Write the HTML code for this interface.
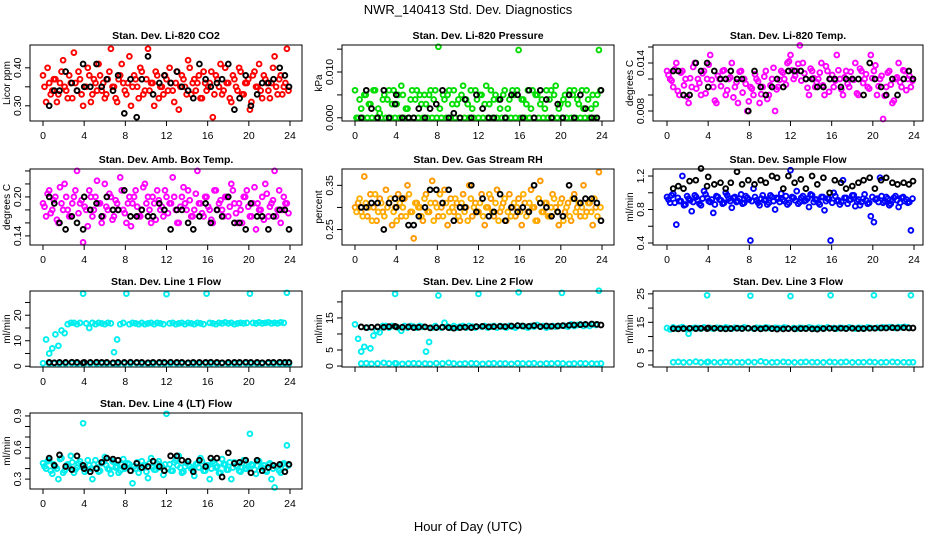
<!DOCTYPE html>
<html><head><meta charset="utf-8">
<style>
html,body{margin:0;padding:0;background:#fff;}
svg{display:block;font-family:"Liberation Sans",Arial,sans-serif;}
</style></head>
<body>
<svg id="chart" width="936" height="540" viewBox="0 0 936 540">
<rect width="936" height="540" fill="#fff"/>
<text x="468" y="14" text-anchor="middle" font-size="13" fill="#000">NWR_140413  Std. Dev. Diagnostics</text>
<text x="468" y="531" text-anchor="middle" font-size="13" fill="#000">Hour of Day (UTC)</text>
</svg>
<script>
// ---------- data ----------
const colorHours = [0,0.3,0.6,0.9,1.2,1.5,1.8,2.1,2.4,2.7,3,3.3,3.6,3.9,4.2,4.5,4.8,5.1,5.4,5.7,6,6.3,6.6,6.9,7.2,7.5,7.8,8.1,8.4,8.7,9,9.3,9.6,9.9,10.2,10.5,10.8,11.1,11.4,11.7,12,12.3,12.6,12.9,13.2,13.5,13.8,14.1,14.4,14.7,15,15.3,15.6,15.9,16.2,16.5,16.8,17.1,17.4,17.7,18,18.3,18.6,18.9,19.2,19.5,19.8,20.1,20.4,20.7,21,21.3,21.6,21.9,22.2,22.5,22.8,23.1,23.4,23.7];
const colorHours2 = [0.15,0.45,0.75,1.05,1.35,1.65,1.95,2.25,2.55,2.85,3.15,3.45,3.75,4.05,4.35,4.65,4.95,5.25,5.55,5.85,6.15,6.45,6.75,7.05,7.35,7.65,7.95,8.25,8.55,8.85,9.15,9.45,9.75,10.05,10.35,10.65,10.95,11.25,11.55,11.85,12.15,12.45,12.75,13.05,13.35,13.65,13.95,14.25,14.55,14.85,15.15,15.45,15.75,16.05,16.35,16.65,16.95,17.25,17.55,17.85,18.15,18.45,18.75,19.05,19.35,19.65,19.95,20.25,20.55,20.85,21.15,21.45,21.75,22.05,22.35,22.65,22.95,23.25,23.55,23.85];
const blackHours = [0.6,1.1,1.6,2.2,2.8,3.3,3.9,4.0,4.6,5.2,5.7,6.2,6.8,7.3,7.9,8.5,9.1,9.6,10.2,10.7,11.3,11.8,12.4,13.0,13.5,14.1,14.6,15.2,15.8,16.3,16.9,17.4,18.0,18.6,19.1,19.7,20.2,20.8,21.3,21.9,22.4,23.0,23.5,23.9];
const xTicks = [0,4,8,12,16,20,24];

const co2Red = [0.38,0.31,0.36,0.34,0.37,0.33,0.39,0.35,0.32,0.36,0.44,0.34,0.37,0.30,0.35,0.38,0.33,0.36,0.41,0.34,0.32,0.37,0.45,0.35,0.31,0.38,0.36,0.33,0.43,0.35,0.37,0.32,0.39,0.34,0.45,0.36,0.30,0.38,0.35,0.33,0.37,0.40,0.34,0.36,0.29,0.38,0.35,0.42,0.33,0.37,0.36,0.32,0.39,0.34,0.36,0.27,0.38,0.35,0.33,0.40,0.36,0.31,0.37,0.34,0.39,0.33,0.36,0.29,0.38,0.35,0.41,0.32,0.37,0.34,0.36,0.43,0.33,0.38,0.35,0.45];
const co2Red2 = [0.35,0.40,0.33,0.37,0.31,0.36,0.42,0.34,0.38,0.32,0.36,0.39,0.33,0.35,0.40,0.31,0.37,0.34,0.38,0.36,0.33,0.39,0.35,0.32,0.37,0.41,0.34,0.36,0.30,0.38,0.35,0.40,0.33,0.37,0.34,0.36,0.39,0.32,0.35,0.38,0.34,0.36,0.31,0.39,0.35,0.37,0.33,0.40,0.36,0.34,0.38,0.32,0.36,0.35,0.39,0.33,0.37,0.41,0.34,0.36,0.32,0.38,0.35,0.40,0.33,0.36,0.37,0.31,0.39,0.35,0.34,0.38,0.36,0.32,0.40,0.35,0.37,0.33,0.36,0.34];
const co2Black = [0.30,0.34,0.34,0.39,0.36,0.34,0.41,0.35,0.35,0.41,0.35,0.37,0.34,0.38,0.28,0.37,0.27,0.37,0.43,0.33,0.36,0.38,0.36,0.39,0.35,0.34,0.32,0.41,0.37,0.35,0.36,0.37,0.41,0.29,0.32,0.38,0.30,0.33,0.36,0.36,0.37,0.40,0.38,0.35];

const presGreen = [0.006,0,0.002,0.005,0,0.003,0.006,0,0.001,0.004,0,0.006,0.003,0,0.005,0.007,0,0.002,0.004,0,0.006,0.005,0,0.003,0.005,0,0.006,0.0155,0,0.004,0.005,0,0.006,0.003,0,0.007,0.004,0,0.002,0.006,0,0.005,0.003,0,0.006,0.004,0,0.002,0.005,0,0.004,0.006,0,0.0148,0.004,0,0.006,0.002,0,0.005,0.003,0,0.006,0.004,0,0.007,0.002,0,0.005,0.003,0,0.006,0.004,0,0.002,0.006,0,0.005,0.003,0.0148];
const presGreen2 = [0,0.004,0,0.005,0.003,0,0.006,0.002,0,0.005,0.004,0,0.006,0.003,0,0.005,0.002,0,0.006,0.004,0,0.003,0.005,0,0.006,0.004,0,0.002,0.005,0,0.006,0.003,0,0.004,0.005,0,0.003,0.006,0,0.004,0.005,0,0.007,0.003,0,0.005,0.004,0,0.006,0.002,0,0.005,0.006,0,0.004,0.003,0,0.006,0.005,0,0.004,0.002,0,0.006,0.005,0,0.003,0.004,0,0.006,0.005,0,0.003,0.006,0,0.004,0.002,0,0.005,0.006];
const presBlack = [0,0.006,0.002,0,0.006,0,0.003,0.005,0,0,0,0.002,0,0.002,0.003,0.006,0,0.001,0,0.004,0,0.005,0.002,0,0,0.004,0,0.005,0.005,0,0.006,0,0.006,0.004,0,0.003,0,0.005,0,0.005,0.002,0,0,0.006];

const tempMagenta = [0.013,0.012,0.011,0.014,0.010,0.013,0.012,0.009,0.011,0.014,0.012,0.010,0.013,0.012,0.015,0.011,0.009,0.012,0.013,0.010,0.012,0.014,0.011,0.009,0.013,0.012,0.008,0.011,0.010,0.012,0.009,0.011,0.013,0.010,0.012,0.008,0.011,0.013,0.012,0.014,0.015,0.012,0.013,0.0162,0.014,0.012,0.010,0.013,0.011,0.012,0.014,0.010,0.013,0.012,0.011,0.015,0.012,0.010,0.013,0.011,0.012,0.014,0.010,0.013,0.012,0.011,0.015,0.013,0.010,0.012,0.0070,0.011,0.013,0.009,0.012,0.014,0.011,0.013,0.012,0.011];
const tempMagenta2 = [0.0125,0.0118,0.0132,0.0105,0.0128,0.0112,0.0098,0.0121,0.0135,0.0108,0.0115,0.0127,0.0102,0.0138,0.0119,0.0093,0.0124,0.0111,0.0131,0.0106,0.0122,0.0097,0.0116,0.0129,0.0103,0.0114,0.0092,0.0108,0.0126,0.0117,0.0101,0.0123,0.0095,0.0112,0.0134,0.0107,0.0119,0.0128,0.0113,0.0142,0.0131,0.0124,0.0139,0.0118,0.0127,0.0109,0.0133,0.0121,0.0116,0.0128,0.0112,0.0136,0.0104,0.0125,0.0118,0.0131,0.0107,0.0122,0.0114,0.0129,0.0119,0.0102,0.0133,0.0115,0.0126,0.0108,0.0121,0.0137,0.0111,0.0124,0.0099,0.0128,0.0113,0.0093,0.0122,0.0116,0.0131,0.0106,0.0124,0.0118];
const tempBlack = [0.013,0.013,0.010,0.010,0.014,0.013,0.014,0.011,0.013,0.012,0.012,0.013,0.012,0.012,0.008,0.013,0.011,0.010,0.011,0.012,0.011,0.013,0.013,0.013,0.012,0.012,0.011,0.011,0.012,0.012,0.011,0.012,0.012,0.012,0.010,0.014,0.012,0.011,0.010,0.012,0.010,0.012,0.013,0.012];

const ambMagenta = [0.19,0.17,0.21,0.18,0.20,0.16,0.19,0.22,0.18,0.17,0.20,0.24,0.19,0.13,0.18,0.21,0.17,0.20,0.19,0.16,0.22,0.18,0.20,0.17,0.19,0.23,0.18,0.16,0.20,0.19,0.21,0.17,0.18,0.22,0.20,0.16,0.19,0.21,0.18,0.17,0.20,0.19,0.23,0.18,0.16,0.20,0.19,0.21,0.17,0.18,0.24,0.19,0.17,0.20,0.18,0.16,0.21,0.19,0.18,0.20,0.17,0.22,0.19,0.16,0.18,0.20,0.21,0.17,0.19,0.15,0.18,0.20,0.22,0.17,0.19,0.24,0.18,0.16,0.20,0.19];
const ambMagenta2 = [0.185,0.205,0.175,0.195,0.165,0.215,0.18,0.20,0.17,0.19,0.21,0.175,0.195,0.185,0.155,0.20,0.18,0.225,0.19,0.17,0.185,0.205,0.165,0.195,0.18,0.21,0.175,0.19,0.155,0.20,0.185,0.17,0.215,0.19,0.18,0.20,0.165,0.195,0.185,0.21,0.175,0.19,0.20,0.16,0.185,0.215,0.18,0.195,0.17,0.205,0.19,0.175,0.20,0.185,0.165,0.21,0.18,0.195,0.17,0.20,0.185,0.21,0.175,0.19,0.16,0.20,0.185,0.17,0.215,0.19,0.18,0.165,0.205,0.185,0.195,0.17,0.21,0.18,0.19,0.175];
const ambBlack = [0.20,0.19,0.16,0.15,0.17,0.16,0.15,0.20,0.18,0.19,0.17,0.20,0.18,0.18,0.21,0.17,0.17,0.18,0.17,0.17,0.19,0.18,0.15,0.18,0.18,0.16,0.15,0.17,0.19,0.16,0.18,0.17,0.20,0.16,0.16,0.15,0.19,0.17,0.17,0.15,0.17,0.18,0.18,0.15];

const rhOrange = [0.30,0.31,0.29,0.37,0.28,0.33,0.30,0.27,0.32,0.29,0.34,0.31,0.26,0.30,0.33,0.28,0.32,0.35,0.29,0.23,0.31,0.30,0.27,0.33,0.29,0.36,0.31,0.28,0.30,0.34,0.26,0.32,0.29,0.31,0.27,0.33,0.30,0.35,0.28,0.31,0.29,0.33,0.26,0.30,0.32,0.28,0.34,0.29,0.31,0.27,0.33,0.30,0.28,0.32,0.26,0.31,0.29,0.34,0.30,0.27,0.36,0.29,0.31,0.28,0.33,0.30,0.26,0.32,0.29,0.31,0.27,0.33,0.30,0.28,0.35,0.29,0.31,0.26,0.30,0.38];
const rhOrange2 = [0.29,0.32,0.28,0.31,0.30,0.27,0.33,0.29,0.31,0.28,0.30,0.32,0.29,0.27,0.31,0.30,0.28,0.33,0.29,0.31,0.30,0.28,0.32,0.29,0.31,0.27,0.30,0.33,0.28,0.31,0.29,0.30,0.32,0.28,0.31,0.29,0.27,0.32,0.30,0.29,0.31,0.28,0.30,0.33,0.29,0.31,0.27,0.30,0.32,0.29,0.28,0.31,0.30,0.29,0.33,0.28,0.31,0.30,0.27,0.32,0.29,0.31,0.28,0.30,0.32,0.29,0.31,0.27,0.30,0.28,0.32,0.29,0.31,0.30,0.28,0.31,0.29,0.32,0.28,0.30];
const rhBlack = [0.30,0.30,0.31,0.31,0.25,0.31,0.32,0.30,0.32,0.26,0.26,0.28,0.30,0.34,0.34,0.31,0.34,0.27,0.30,0.30,0.35,0.29,0.32,0.28,0.29,0.33,0.27,0.30,0.29,0.30,0.29,0.35,0.31,0.30,0.28,0.29,0.28,0.35,0.32,0.31,0.32,0.32,0.31,0.27];

const flowBlue = [0.95,0.88,0.99,0.62,0.90,1.20,0.86,0.93,0.78,0.97,0.91,0.85,1.02,0.94,0.89,0.76,0.96,0.92,0.87,1.00,0.93,0.82,0.95,0.90,0.98,0.88,0.94,0.43,1.05,0.91,0.85,0.97,0.92,0.88,0.95,0.80,0.93,0.99,0.90,0.86,1.27,0.94,1.02,0.89,0.96,0.91,0.83,0.97,0.92,0.88,0.95,0.79,0.93,0.43,1.00,0.90,0.86,1.15,0.94,0.91,0.97,0.84,0.92,0.89,0.98,0.87,0.72,0.65,0.93,1.18,0.88,0.95,0.85,0.91,0.96,0.83,0.94,0.90,0.88,0.55];
const flowBlue2 = [0.92,0.97,0.88,0.94,0.90,0.85,0.96,0.91,0.89,0.95,0.87,0.93,0.98,0.90,0.92,0.86,0.95,0.91,0.88,0.97,0.90,0.94,0.89,0.93,0.87,0.96,0.92,0.90,0.95,0.88,0.93,0.91,0.86,0.97,0.90,0.94,0.89,0.92,0.96,0.88,0.95,0.91,0.87,0.94,0.90,0.93,0.98,0.89,0.92,0.86,0.95,0.90,0.93,0.88,0.96,0.91,0.89,0.94,0.87,0.92,0.97,0.90,0.85,0.93,0.91,0.88,0.95,0.92,0.89,0.96,0.90,0.93,0.87,0.94,0.91,0.88,0.95,0.92,0.89,0.93];
const flowBlack = [1.05,1.08,1.05,1.14,1.15,1.29,1.08,1.19,1.10,1.12,1.05,1.12,1.25,1.10,1.15,1.10,1.15,1.12,1.20,1.18,1.05,1.20,1.12,1.16,1.05,1.20,1.10,1.18,1.00,1.15,1.12,1.05,1.08,1.12,1.15,1.18,1.05,1.15,1.18,1.12,1.10,1.12,1.10,1.14];

const line1High = [1.2,10.5,5,7,12.5,8,14,13,16.5,17,17,16.5,17,28.5,16.8,15,17,16.5,17,16.8,16.5,17,16.8,5.5,10.5,16.5,17,28.5,16.5,17,16.8,16.5,17,16.5,16.8,17,16.5,17,16.8,16.5,28.3,16.8,17,16.5,16.8,17,16.5,17,16.8,16.5,17,16.8,16.5,28.5,17,16.8,16.5,17,16.8,17.2,16.8,17,16.5,16.8,17,16.8,17,28.5,17,16.8,17.2,16.8,17,17.2,16.8,17,16.8,17.2,17,28.8];
const line1Low = [1.0,1.1,0.9,1.0,1.2,0.9,1.0,1.1,1.0,0.9,1.1,1.0,1.0,0.9,1.1,1.0,1.2,1.0,0.9,1.0,1.1,1.0,0.9,1.0,1.1,1.0,1.0,0.9,1.1,1.0,1.0,1.1,0.9,1.0,1.0,1.1,1.0,0.9,1.0,1.1,1.0,1.0,0.9,1.0];
const line1Black = [1.5,1.4,1.5,1.5,1.6,1.5,1.4,1.5,1.5,1.6,1.5,1.5,1.4,1.5,1.5,1.6,1.5,1.5,1.4,1.5,1.5,1.5,1.6,1.5,1.5,1.4,1.5,1.5,1.5,1.6,1.5,1.4,1.5,1.5,1.5,1.6,1.5,1.5,1.4,1.5,1.5,1.6,1.5,1.5];

const line2High = [13,8.5,4.5,6,12,5.5,9.5,11,10.5,12.5,12.5,12,12.5,22.5,12,11,12.5,12,12.5,12.3,12,12.5,12.2,4.5,7.5,12,12.5,22,12,13.5,12.3,12,12.5,12,12.3,12.5,12,12.5,12.3,12,22.5,12.3,12.5,12,12.3,12.5,12,12.5,12.3,12,12.5,12.3,12,23,12.5,12.3,12,12.5,12.3,12.8,12.3,12.5,12,12.3,12.5,12.3,12.5,22.8,12.5,12.3,13,12.5,12.8,13,12.5,12.8,12.5,13,12.8,23.5];
const line2Low = [0.8,0.9,0.7,0.8,1.0,0.8,0.9,0.8,0.7,0.8,0.9,0.8,0.8,0.7,0.9,0.8,1.0,0.8,0.7,0.8,0.9,0.8,0.7,0.8,0.9,0.8,0.8,0.7,0.9,0.8,0.8,0.9,0.7,0.8,0.8,0.9,0.8,0.7,0.8,0.9,0.8,0.8,0.7,0.8];
const line2Black = [12.2,12.0,12.1,12.2,12.1,12.3,12.4,12.2,12.1,12.2,12.0,12.1,12.2,11.9,12.0,12.1,12.0,11.8,12.0,12.1,12.0,12.3,12.4,12.2,12.3,12.4,12.3,12.5,12.6,12.5,12.4,12.6,12.3,12.5,12.4,12.5,12.6,12.7,12.8,12.9,13.0,13.1,13.0,12.8];

const line3High = [13,12.5,13.2,12.8,13,13.3,12.8,11,12.9,13.1,13,12.8,13.2,24.5,13,12.8,13.1,13,12.9,13.2,13,12.8,13.1,13,12.9,13.2,13,24.3,12.8,13.1,13,12.9,13.2,13,12.8,13.1,13,12.9,13.2,13,24.2,13,12.8,13.1,13,12.9,13.2,13,12.8,13.1,13,12.9,13.2,24.5,13,12.8,13.1,13,12.9,13.2,13,12.8,13.1,13,12.9,13.2,13,24.5,13.1,13,13.2,13.1,13.3,13.2,13,13.3,13.2,13.4,13.2,24.5];
const line3Low = [1.0,1.1,0.9,1.0,1.2,0.9,1.0,1.1,1.0,0.9,1.1,1.0,1.0,0.9,1.1,1.0,1.3,1.0,0.9,1.0,1.1,1.0,0.9,1.0,1.1,1.0,1.0,0.9,1.1,1.0,1.0,1.1,0.9,1.0,1.0,1.1,1.0,0.9,1.0,1.1,1.0,1.0,0.9,1.0];
const line3Black = [12.8,12.7,12.8,12.9,12.8,12.9,12.8,13.0,12.9,12.8,12.7,12.8,12.9,12.8,12.9,12.8,12.7,12.9,12.8,12.6,12.7,12.8,12.7,12.8,12.8,12.7,12.6,12.8,12.9,12.8,12.9,12.8,12.9,12.8,12.8,12.9,12.9,13.0,13.0,13.1,13.0,13.1,13.0,13.0];

const line4Cyan = [0.45,0.40,0.48,0.35,0.42,0.30,0.50,0.38,0.44,0.52,0.36,0.41,0.47,0.83,0.39,0.43,0.30,0.48,0.37,0.45,0.51,0.40,0.35,0.46,0.42,0.38,0.49,0.41,0.44,0.26,0.40,0.36,0.47,0.43,0.31,0.50,0.39,0.45,0.41,0.34,0.92,0.44,0.38,0.48,0.52,0.36,0.42,0.47,0.40,0.33,0.45,0.50,0.38,0.43,0.30,0.47,0.41,0.36,0.49,0.44,0.39,0.30,0.46,0.42,0.37,0.48,0.40,0.73,0.43,0.35,0.47,0.41,0.38,0.44,0.30,0.22,0.42,0.36,0.45,0.62];
const line4Cyan2 = [0.42,0.47,0.38,0.44,0.40,0.49,0.36,0.43,0.41,0.46,0.39,0.45,0.42,0.37,0.48,0.40,0.44,0.41,0.38,0.46,0.43,0.39,0.47,0.41,0.36,0.44,0.40,0.45,0.38,0.42,0.46,0.40,0.43,0.37,0.45,0.41,0.39,0.47,0.42,0.44,0.40,0.38,0.46,0.43,0.41,0.37,0.45,0.42,0.39,0.44,0.41,0.47,0.38,0.43,0.40,0.45,0.42,0.36,0.44,0.39,0.46,0.41,0.43,0.38,0.45,0.40,0.42,0.44,0.39,0.47,0.41,0.43,0.37,0.45,0.40,0.42,0.38,0.44,0.41,0.43];
const line4Black = [0.5,0.43,0.53,0.42,0.39,0.52,0.43,0.40,0.37,0.40,0.46,0.50,0.49,0.48,0.42,0.38,0.45,0.41,0.42,0.47,0.42,0.38,0.52,0.52,0.48,0.47,0.37,0.48,0.42,0.50,0.50,0.32,0.55,0.45,0.46,0.48,0.36,0.48,0.38,0.41,0.43,0.44,0.37,0.44];

// ---------- panels ----------
const NS = "http://www.w3.org/2000/svg";
const svg = document.getElementById('chart');
const colX = [{l:30,r:302,x0:43,x24:290},{l:342,r:614,x0:355,x24:602},{l:653,r:923,x0:667,x24:914}];
const rowY = [45,169,291,413];
const H = 76;

const panels = [
 {name:'co2',title:'Stan. Dev. Li-820 CO2',ylab:'Licor ppm',c:0,r:0,min:0.26,max:0.46,ticks:[0.30,0.35,0.40],labels:['0.30','','0.40'],xl:true,
  series:[{h:colorHours,v:co2Red,col:'#ff0000'},{h:colorHours2,v:co2Red2,col:'#ff0000'},{h:blackHours,v:co2Black,col:'#000'}]},
 {name:'pressure',title:'Stan. Dev. Li-820 Pressure',ylab:'kPa',c:1,r:0,min:-0.0007,max:0.0159,ticks:[0,0.005,0.010,0.015],labels:['0.000','','0.010',''],xl:true,
  series:[{h:colorHours,v:presGreen,col:'#00dd00'},{h:colorHours2,v:presGreen2,col:'#00dd00'},{h:blackHours,v:presBlack,col:'#000'}]},
 {name:'licor-temp',title:'Stan. Dev. Li-820 Temp.',ylab:'degrees C',c:2,r:0,min:0.00675,max:0.01625,ticks:[0.008,0.010,0.012,0.014,0.016],labels:['0.008','','','0.014',''],xl:true,
  series:[{h:colorHours,v:tempMagenta,col:'#ff00ff'},{h:colorHours2,v:tempMagenta2,col:'#ff00ff'},{h:blackHours,v:tempBlack,col:'#000'}]},
 {name:'amb-box-temp',title:'Stan. Dev. Amb. Box Temp.',ylab:'degrees C',c:0,r:1,min:0.126,max:0.243,ticks:[0.14,0.16,0.18,0.20,0.22,0.24],labels:['0.14','','','0.20','',''],xl:true,
  series:[{h:colorHours,v:ambMagenta,col:'#ff00ff'},{h:colorHours2,v:ambMagenta2,col:'#ff00ff'},{h:blackHours,v:ambBlack,col:'#000'}]},
 {name:'gas-stream-rh',title:'Stan. Dev. Gas Stream RH',ylab:'percent',c:1,r:1,min:0.215,max:0.387,ticks:[0.25,0.30,0.35],labels:['0.25','','0.35'],xl:true,
  series:[{h:colorHours,v:rhOrange,col:'#ff9900'},{h:colorHours2,v:rhOrange2,col:'#ffb000'},{h:blackHours,v:rhBlack,col:'#000'}]},
 {name:'sample-flow',title:'Stan. Dev. Sample Flow',ylab:'ml/min',c:2,r:1,min:0.376,max:1.284,ticks:[0.4,0.6,0.8,1.0,1.2],labels:['0.4','','0.8','','1.2'],xl:true,
  series:[{h:colorHours,v:flowBlue,col:'#0000ff'},{h:colorHours2,v:flowBlue2,col:'#0000ff'},{h:blackHours,v:flowBlack,col:'#000'}]},
 {name:'line1-flow',title:'Stan. Dev. Line 1 Flow',ylab:'ml/min',c:0,r:2,min:-0.3,max:29.5,ticks:[0,5,10,15,20,25],labels:['0','','10','','20',''],xl:true,
  series:[{h:colorHours,v:line1High,col:'#00eeee'},{h:blackHours,v:line1Low,col:'#00eeee'},{h:blackHours,v:line1Black,col:'#000'}]},
 {name:'line2-flow',title:'Stan. Dev. Line 2 Flow',ylab:'ml/min',c:1,r:2,min:-0.3,max:23.4,ticks:[0,5,10,15,20],labels:['0','5','','15',''],xl:false,
  series:[{h:colorHours,v:line2High,col:'#00eeee'},{h:blackHours,v:line2Low,col:'#00eeee'},{h:blackHours,v:line2Black,col:'#000'}]},
 {name:'line3-flow',title:'Stan. Dev. Line 3 Flow',ylab:'ml/min',c:2,r:2,min:-0.7,max:26.0,ticks:[0,5,10,15,20,25],labels:['0','5','','15','','25'],xl:false,
  series:[{h:colorHours,v:line3High,col:'#00eeee'},{h:blackHours,v:line3Low,col:'#00eeee'},{h:blackHours,v:line3Black,col:'#000'}]},
 {name:'line4-flow',title:'Stan. Dev. Line 4 (LT) Flow',ylab:'ml/min',c:0,r:3,min:0.206,max:0.928,ticks:[0.3,0.4,0.5,0.6,0.7,0.8,0.9],labels:['0.3','','','0.6','','','0.9'],xl:true,
  series:[{h:colorHours,v:line4Cyan,col:'#00eeee'},{h:colorHours2,v:line4Cyan2,col:'#00eeee'},{h:blackHours,v:line4Black,col:'#000'}]}
];

function mk(tag, attrs, parent){
  const e = document.createElementNS(NS, tag);
  for (const k in attrs) e.setAttribute(k, attrs[k]);
  parent.appendChild(e);
  return e;
}

panels.forEach(p => {
  const cx = colX[p.c], top = rowY[p.r], bot = top + H;
  const xs = h => cx.x0 + (h/24)*(cx.x24 - cx.x0);
  const ys = v => bot - (v - p.min)/(p.max - p.min)*H;
  const g = mk('g', {}, svg);
  
  

  const t = mk('text', {x:(cx.l+cx.r)/2, y:top-6, 'text-anchor':'middle', 'font-size':'10.5', 'font-weight':'bold'}, g);
  t.textContent = p.title;
  
  

  p.series.forEach((s, si) => {
    const sg = mk('g', {fill:'none', stroke:s.col, 'stroke-width':'1.9'}, g);
    
    
    const n = Math.min(s.h.length, s.v.length);
    for (let i = 0; i < n; i++) {
      const c = mk('circle', {cx:xs(s.h[i]).toFixed(1), cy:ys(s.v[i]).toFixed(1), r:'2.4'}, sg);
      
      
    }
  });

  const box = mk('rect', {x:cx.l, y:top, width:cx.r-cx.l, height:H, fill:'none', stroke:'#000', 'stroke-width':'1'}, g);
  
  

  const ya = mk('g', {}, g);
  
  
  mk('line', {x1:cx.l, x2:cx.l, y1:ys(p.ticks[0]), y2:ys(p.ticks[p.ticks.length-1]), stroke:'#000'}, ya);
  p.ticks.forEach((tv, i) => {
    const y = ys(tv);
    mk('line', {x1:cx.l-5, x2:cx.l, y1:y, y2:y, stroke:'#000'}, ya);
    if (p.labels[i]) {
      const lt = mk('text', {x:0, y:0, 'text-anchor':'middle', 'font-size':'10.5', transform:`translate(${cx.l-9},${y}) rotate(-90)`}, ya);
      lt.textContent = p.labels[i];
      
      
    }
  });
  const yl = mk('text', {x:0, y:0, 'text-anchor':'middle', 'font-size':'10', transform:`translate(${cx.l-20},${top+H/2}) rotate(-90)`}, g);
  yl.textContent = p.ylab;
  
  

  const xa = mk('g', {}, g);
  
  
  mk('line', {x1:xs(0), x2:xs(24), y1:bot, y2:bot, stroke:'#000'}, xa);
  xTicks.forEach(h => {
    mk('line', {x1:xs(h), x2:xs(h), y1:bot, y2:bot+5, stroke:'#000'}, xa);
    if (p.xl) {
      const lt = mk('text', {x:xs(h), y:bot+18, 'text-anchor':'middle', 'font-size':'10.5'}, xa);
      lt.textContent = h;
      
      
    }
  });
});
</script>
</body></html>
